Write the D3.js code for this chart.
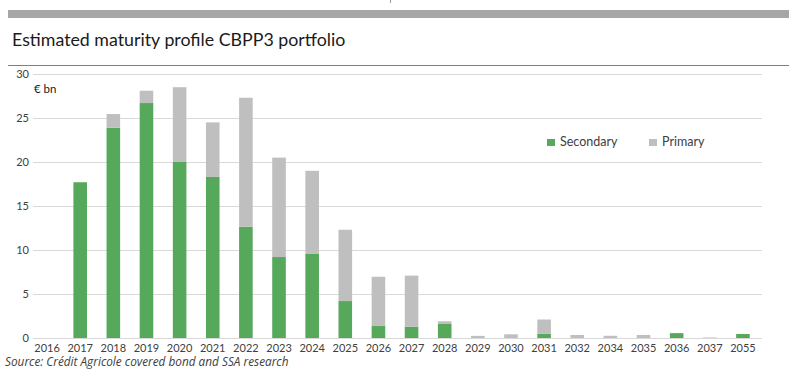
<!DOCTYPE html>
<html>
<head>
<meta charset="utf-8">
<script src="https://cdn.jsdelivr.net/npm/d3@7"></script>
<style>
html, body { margin: 0; padding: 0; background: #fff; }
svg { display: block; }
</style>
</head>
<body>
<svg id="chart" width="800" height="381" style="font-family: Lato, 'Open Sans', sans-serif;"></svg>
<script>
const categories = ["2016","2017","2018","2019","2020","2021","2022","2023","2024","2025","2026","2027","2028","2029","2030","2031","2032","2034","2035","2036","2037","2055"];
const secondary = [0, 17.7, 23.9, 26.7, 20.0, 18.3, 12.65, 9.2, 9.55, 4.2, 1.36, 1.29, 1.59, 0, 0, 0.5, 0, 0, 0, 0.55, 0, 0.45];
const primary   = [0, 0, 1.55, 1.4, 8.5, 6.2, 14.65, 11.3, 9.45, 8.1, 5.6, 5.8, 0.31, 0.24, 0.42, 1.6, 0.34, 0.25, 0.34, 0, 0.06, 0];
const yTicks = [0, 5, 10, 15, 20, 25, 30];
const seriesNames = ["Secondary", "Primary"];
const colors = {Secondary: "#56a85a", Primary: "#bfbfbf"};

const svg = d3.select("#chart");

// top band and title
svg.append("rect").attr("x", 8).attr("y", 10).attr("width", 781).attr("height", 8).attr("fill", "#a6a6a6");
svg.append("line").attr("x1", 390.5).attr("x2", 390.5).attr("y1", 0).attr("y2", 3).attr("stroke", "#999").attr("stroke-width", 1);
svg.append("text").attr("x", 12).attr("y", 46).attr("font-size", 17.8).attr("fill", "#1a1a1a")
  .text("Estimated maturity profile CBPP3 portfolio");
svg.append("line").attr("x1", 8).attr("x2", 789).attr("y1", 65.5).attr("y2", 65.5).attr("stroke", "#7f7f7f").attr("stroke-width", 1);

const x = d3.scaleBand().domain(categories).range([30.5, 759.5]).paddingInner(0.59).paddingOuter(0.295);
const y = d3.scaleLinear().domain([0, 30]).range([338, 74]);

// gridlines
svg.append("g").selectAll("line").data(yTicks).join("line")
  .attr("x1", 33).attr("x2", 762)
  .attr("y1", d => Math.round(y(d)) + 0.5).attr("y2", d => Math.round(y(d)) + 0.5)
  .attr("stroke", "#d9d9d9").attr("stroke-width", 1);

// y axis labels
const yAxis = d3.axisLeft(y).tickValues(yTicks).tickSize(0).tickPadding(0);
const gy = svg.append("g").attr("transform", "translate(29,0)").call(yAxis);
gy.select(".domain").remove();
gy.attr("font-family", null);
gy.selectAll("text").attr("font-size", 11).attr("fill", "#404040");

svg.append("text").attr("x", 34).attr("y", 93).attr("font-size", 11.5).attr("fill", "#1a1a1a").text("€ bn");

// stacked bars
const table = categories.map((c, i) => ({cat: c, Secondary: secondary[i], Primary: primary[i]}));
const stack = d3.stack().keys(seriesNames)(table);
svg.append("g").selectAll("g").data(stack).join("g")
  .attr("fill", d => colors[d.key])
  .selectAll("rect").data(d => d).join("rect")
  .attr("x", d => x(d.data.cat))
  .attr("width", x.bandwidth())
  .attr("y", d => y(d[1]))
  .attr("height", d => Math.max(0, y(d[0]) - y(d[1])));

// x axis
const xAxis = d3.axisBottom(x).tickSize(0).tickPadding(6);
const gx = svg.append("g").attr("transform", "translate(0,338)").call(xAxis);
gx.select(".domain").remove();
gx.attr("font-family", null);
gx.selectAll("text").attr("font-size", 11).attr("fill", "#404040");

// legend
const legend = svg.append("g");
const legX = [547, 649];
seriesNames.forEach((s, i) => {
  legend.append("rect").attr("x", legX[i]).attr("y", 139).attr("width", 8).attr("height", 7).attr("fill", colors[s]);
  legend.append("text").attr("x", legX[i] + 13).attr("y", 146).attr("font-size", 12.5).attr("fill", "#404040").text(s);
});

// source
svg.append("text").attr("x", 5).attr("y", 366).attr("font-size", 11.8).attr("font-style", "italic").attr("fill", "#404040")
  .style("font-family", "'Open Sans', sans-serif")
  .text("Source: Crédit Agricole covered bond and SSA research");
</script>
</body>
</html>
